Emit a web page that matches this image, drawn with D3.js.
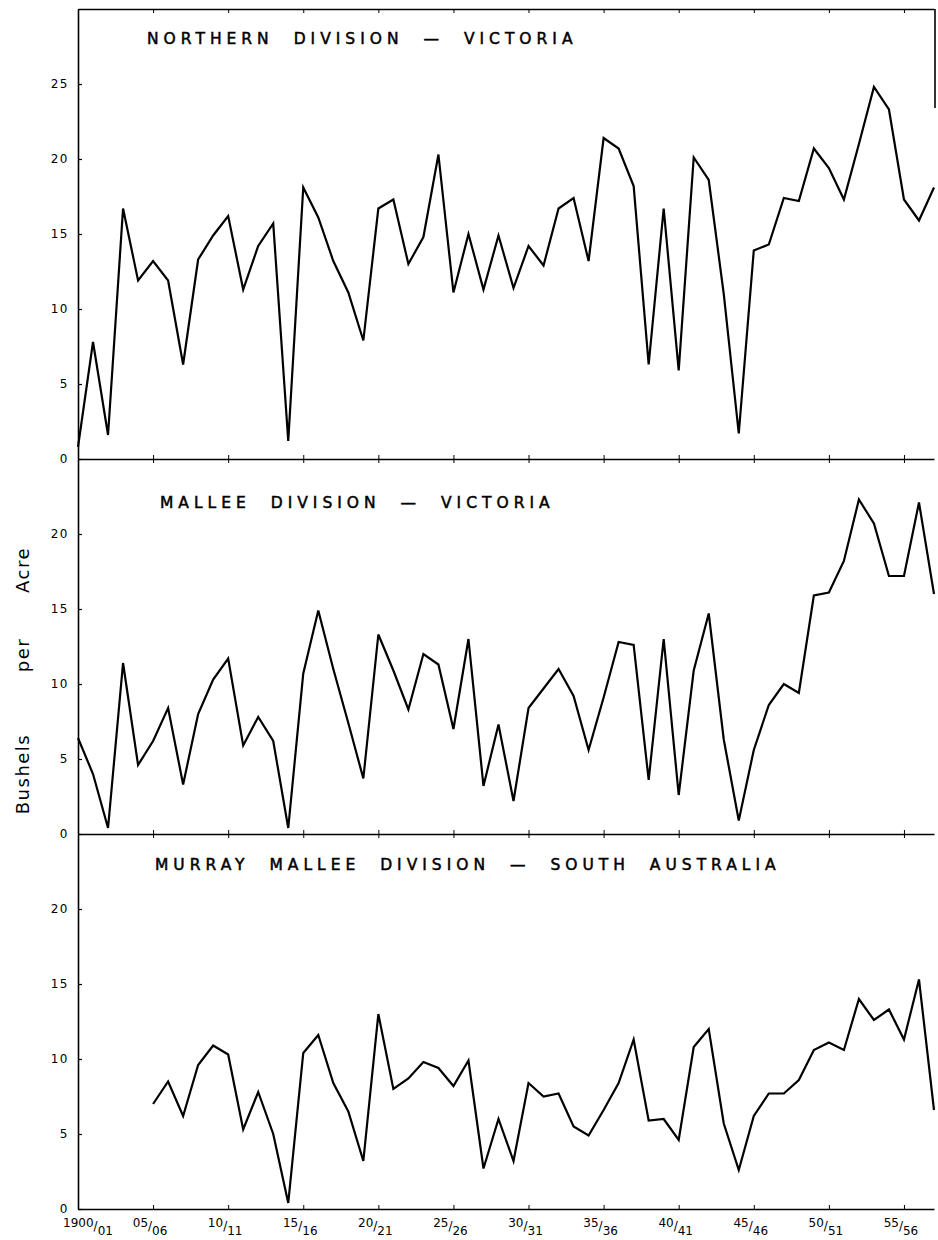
<!DOCTYPE html>
<html>
<head>
<meta charset="utf-8">
<script src="https://cdn.jsdelivr.net/npm/d3@7"></script>
<style>
  body { margin: 0; background: #fff; }
  svg { display: block; }
  text { font-family: "DejaVu Sans", sans-serif; fill: #000; }
</style>
</head>
<body>
<div id="chart"></div>
<script>
/* global d3 */

// seasons 1900/01 .. 1957/58 (start year)
const seasons = [1900, 1901, 1902, 1903, 1904, 1905, 1906, 1907, 1908, 1909,
  1910, 1911, 1912, 1913, 1914, 1915, 1916, 1917, 1918, 1919,
  1920, 1921, 1922, 1923, 1924, 1925, 1926, 1927, 1928, 1929,
  1930, 1931, 1932, 1933, 1934, 1935, 1936, 1937, 1938, 1939,
  1940, 1941, 1942, 1943, 1944, 1945, 1946, 1947, 1948, 1949,
  1950, 1951, 1952, 1953, 1954, 1955, 1956, 1957]

// wheat yield, bushels per acre
const northern = [0.8, 7.8, 1.6, 16.7, 11.9, 13.2, 11.9, 6.3, 13.3, 14.9,
  16.2, 11.3, 14.2, 15.7, 1.2, 18.1, 16.1, 13.2, 11.1, 7.9,
  16.7, 17.3, 13.0, 14.8, 20.3, 11.1, 15.0, 11.3, 14.9, 11.4,
  14.2, 12.9, 16.7, 17.4, 13.2, 21.4, 20.7, 18.2, 6.3, 16.7,
  5.9, 20.1, 18.6, 11.0, 1.7, 13.9, 14.3, 17.4, 17.2, 20.7,
  19.4, 17.3, 21.0, 24.8, 23.3, 17.3, 15.9, 18.1]

const mallee = [6.4, 4.0, 0.4, 11.4, 4.6, 6.2, 8.4, 3.3, 8.0, 10.3,
  11.7, 5.9, 7.8, 6.2, 0.4, 10.7, 14.9, 11.0, 7.4, 3.7,
  13.3, 10.9, 8.3, 12.0, 11.3, 7.0, 13.0, 3.2, 7.3, 2.2,
  8.4, 9.7, 11.0, 9.2, 5.6, 9.1, 12.8, 12.6, 3.6, 13.0,
  2.6, 10.9, 14.7, 6.3, 0.9, 5.6, 8.6, 10.0, 9.4, 15.9,
  16.1, 18.2, 22.3, 20.7, 17.2, 17.2, 22.1, 16.0]

const murrayMallee = [null, null, null, null, null, 7.0, 8.5, 6.2, 9.6, 10.9,
  10.3, 5.3, 7.8, 5.0, 0.4, 10.4, 11.6, 8.4, 6.5, 3.2,
  13.0, 8.0, 8.7, 9.8, 9.4, 8.2, 9.9, 2.7, 6.0, 3.2,
  8.4, 7.5, 7.7, 5.5, 4.9, 6.6, 8.4, 11.3, 5.9, 6.0,
  4.6, 10.8, 12.0, 5.7, 2.6, 6.2, 7.7, 7.7, 8.6, 10.6,
  11.1, 10.6, 14.0, 12.6, 13.3, 11.3, 15.3, 6.6]

const titles = ['NORTHERN DIVISION — VICTORIA',
  'MALLEE DIVISION — VICTORIA',
  'MURRAY MALLEE DIVISION — SOUTH AUSTRALIA']
const yMax = [30, 25, 25]
const yTicks = [[0, 5, 10, 15, 20, 25], [0, 5, 10, 15, 20], [0, 5, 10, 15, 20]]

const tickYears = [1900, 1905, 1910, 1915, 1920, 1925, 1930, 1935, 1940, 1945, 1950, 1955]
const tickTop = ['1900', '05', '10', '15', '20', '25', '30', '35', '40', '45', '50', '55']
const tickBottom = ['01', '06', '11', '16', '21', '26', '31', '36', '41', '46', '51', '56']

// Our canvas
const width = 938,
  height = 1240,
  marginLeft = 78,
  frameRight = 935,
  frameTop = 9,
  unit = 15

const svg = d3.select('#chart')
  .append('svg')
  .attr('width', width)
  .attr('height', height)

const x = d3.scaleLinear()
  .domain([1900, 1957])
  .range([marginLeft, frameRight - 1])

const series = [northern, mallee, murrayMallee]
const titleX = [147, 160, 155]
const titleY = [35, 49, 36]

let panelTop = frameTop
series.forEach((values, p) => {
  const zero = panelTop + yMax[p] * unit
  const y = d3.scaleLinear()
    .domain([0, yMax[p]])
    .range([zero, panelTop])

  // y axis, ticks pointing inwards
  const ya = svg.append('g')
    .attr('transform', `translate(${marginLeft},0)`)
    .call(d3.axisLeft(y).tickValues(yTicks[p]).tickSize(-4).tickSizeOuter(0).tickPadding(9))
  ya.select('.domain').attr('stroke-width', 1.6)
  ya.selectAll('.tick line').attr('stroke-width', 1.2)
  ya.selectAll('.tick text')
    .attr('font-size', 12)
    .attr('letter-spacing', 1.5)
    .style('font-family', '"DejaVu Sans", sans-serif')

  // horizontal base line of each panel, small crossing ticks
  const xa = svg.append('g')
    .attr('transform', `translate(0,${zero})`)
    .call(d3.axisBottom(x).tickValues(tickYears).tickSize(p < 2 ? 4 : 0).tickSizeOuter(0).tickFormat(''))
  xa.select('.domain').attr('stroke-width', 1.6)
  const xb = svg.append('g')
    .attr('transform', `translate(0,${zero})`)
    .call(d3.axisTop(x).tickValues(tickYears).tickSize(4).tickSizeOuter(0).tickFormat(''))
  xb.select('.domain').remove()

  svg.append('text')
    .attr('x', titleX[p])
    .attr('y', panelTop + titleY[p])
    .attr('font-size', 15.5)
    .attr('letter-spacing', 5)
    .attr('word-spacing', 10)
    .attr('stroke', '#000')
    .attr('stroke-width', 0.5)
    .text(titles[p])

  const line = d3.line()
    .defined(d => d[1] != null)
    .x(d => x(d[0]))
    .y(d => y(d[1]))

  svg.append('path')
    .datum(seasons.map((s, i) => [s, values[i]]))
    .attr('fill', 'none')
    .attr('stroke', '#000')
    .attr('stroke-width', 2.2)
    .attr('stroke-linejoin', 'miter')
    .attr('d', line)

  panelTop = zero
})

// top border with ticks downwards
const topAxis = svg.append('g')
  .attr('transform', `translate(0,${frameTop})`)
  .call(d3.axisBottom(x).tickValues(tickYears).tickSize(4).tickSizeOuter(0).tickFormat(''))
topAxis.select('.domain').attr('stroke-width', 1.6)

// short piece of the right frame
svg.append('line')
  .attr('x1', frameRight).attr('x2', frameRight)
  .attr('y1', frameTop).attr('y2', frameTop + 99)
  .attr('stroke', '#000')
  .attr('stroke-width', 1.6)

// season labels, written as fractions
const labels = svg.append('g')
  .selectAll('text')
  .data(tickYears)
  .enter()
  .append('text')
  .attr('x', (d, i) => x(d) + (i === 0 ? 10 : -3))
  .attr('y', panelTop + 18)
  .attr('text-anchor', 'middle')
  .attr('font-size', 12)

labels.append('tspan').text((d, i) => tickTop[i])
labels.append('tspan').attr('dy', 3).text('/')
labels.append('tspan').attr('dy', 5).text((d, i) => tickBottom[i])

// y label, the words are spread along the axis
const yWords = ['Acre', 'per', 'Bushels']
const yWordPos = [570, 655, 774]
svg.append('g')
  .selectAll('text')
  .data(yWords)
  .enter()
  .append('text')
  .attr('transform', (d, i) => `translate(29,${yWordPos[i]}) rotate(-90)`)
  .attr('text-anchor', 'middle')
  .attr('font-size', 18)
  .attr('letter-spacing', 1.5)
  .text(d => d)
</script>
</body>
</html>
